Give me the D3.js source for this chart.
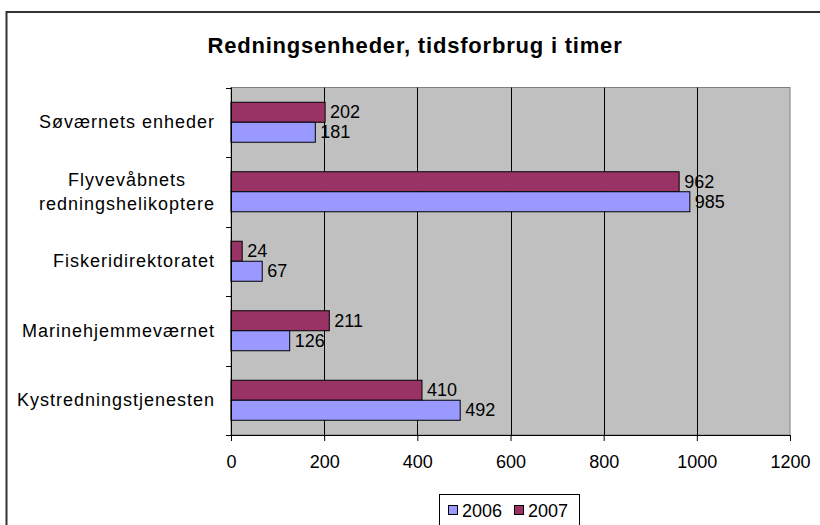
<!DOCTYPE html>
<html>
<head>
<meta charset="utf-8">
<script src="https://cdn.jsdelivr.net/npm/d3@7"></script>
<style>
  body { margin: 0; background: #fff; }
  svg { display: block; font-family: "Liberation Sans", Arial, sans-serif; }
</style>
</head>
<body>
<div id="chart"></div>
<script>
// data
var categories = ["Søværnets enheder", "Flyvevåbnets redningshelikoptere", "Fiskeridirektoratet", "Marinehjemmeværnet", "Kystredningstjenesten"];
var labelLines = [["Søværnets enheder"], ["Flyvevåbnets", "redningshelikoptere"], ["Fiskeridirektoratet"], ["Marinehjemmeværnet"], ["Kystredningstjenesten"]];
var series = ["2007", "2006"];
var values2006 = [181, 985, 67, 126, 492];
var values2007 = [202, 962, 24, 211, 410];
var xTicks = [0, 200, 400, 600, 800, 1000, 1200];
var legendKeys = ["2006", "2007"];
var colors = { "2006": "#9999ff", "2007": "#993366" };

var width = 820, height = 525;
var plot = { left: 231, right: 790, top: 87.5, bottom: 435 };

var svg = d3.select("#chart").append("svg")
    .attr("width", width)
    .attr("height", height);

// outer chart border (runs off the right and bottom)
svg.append("path")
    .attr("d", "M6.5,600 L6.5,12 L830,12")
    .attr("fill", "none")
    .attr("stroke", "#333")
    .attr("stroke-width", 2);

svg.append("text")
    .attr("x", 415)
    .attr("y", 53)
    .attr("text-anchor", "middle")
    .attr("font-size", 22)
    .attr("font-weight", "bold")
    .attr("letter-spacing", 0.8)
    .text("Redningsenheder, tidsforbrug i timer");

var x = d3.scaleLinear().domain([0, 1200]).range([plot.left, plot.right]);
var y = d3.scaleBand().domain(categories).range([plot.top, plot.bottom]);
var barH = 20;
var ySub = d3.scaleBand().domain(series).range([y.bandwidth() / 2 - barH, y.bandwidth() / 2 + barH]);

// plot background
svg.append("rect")
    .attr("x", plot.left)
    .attr("y", plot.top)
    .attr("width", plot.right - plot.left)
    .attr("height", plot.bottom - plot.top)
    .attr("fill", "#c0c0c0")
    .attr("stroke", "#808080")
    .attr("stroke-width", 1);

// gridlines
svg.append("g").selectAll("line")
    .data(xTicks.slice(1, -1))
    .join("line")
    .attr("x1", d => Math.round(x(d)) + 0.5)
    .attr("x2", d => Math.round(x(d)) + 0.5)
    .attr("y1", plot.top)
    .attr("y2", plot.bottom)
    .attr("stroke", "#000")
    .attr("stroke-width", 1);

// bars
var rows = categories.map((c, i) => ({ cat: c, "2006": values2006[i], "2007": values2007[i] }));

var groups = svg.append("g").selectAll("g")
    .data(rows)
    .join("g")
    .attr("transform", d => "translate(0," + y(d.cat) + ")");

groups.selectAll("rect")
    .data(d => series.map(s => ({ s: s, v: d[s] })))
    .join("rect")
    .attr("x", x(0))
    .attr("y", d => ySub(d.s))
    .attr("width", d => x(d.v) - x(0))
    .attr("height", ySub.bandwidth())
    .attr("fill", d => colors[d.s])
    .attr("stroke", "#000")
    .attr("stroke-width", 1);

groups.selectAll("text")
    .data(d => series.map(s => ({ s: s, v: d[s] })))
    .join("text")
    .attr("x", d => x(d.v) + 5)
    .attr("y", d => ySub(d.s) + ySub.bandwidth() / 2 + 6)
    .attr("font-size", 18)
    .attr("fill", "#000")
    .text(d => d.v);

// x axis
var xAxis = svg.append("g")
    .attr("transform", "translate(0," + plot.bottom + ")")
    .call(d3.axisBottom(x).tickValues(xTicks).tickFormat(d3.format("d")).tickSize(6).tickSizeOuter(0));
xAxis.select(".domain").attr("stroke", "#000");
xAxis.selectAll(".tick line").attr("stroke", "#000");
xAxis.selectAll(".tick text")
    .attr("font-size", 18)
    .attr("font-family", "Liberation Sans, Arial, sans-serif")
    .attr("fill", "#000")
    .attr("y", 33)
    .attr("dy", null);

// y axis line + ticks between categories
var yEdges = categories.map(c => y(c)).concat([plot.bottom]);
svg.append("line")
    .attr("x1", plot.left + 0.5).attr("x2", plot.left + 0.5)
    .attr("y1", plot.top).attr("y2", plot.bottom)
    .attr("stroke", "#000");
svg.append("g").selectAll("line")
    .data(yEdges)
    .join("line")
    .attr("x1", plot.left - 5)
    .attr("x2", plot.left)
    .attr("y1", d => Math.round(d) + 0.5)
    .attr("y2", d => Math.round(d) + 0.5)
    .attr("stroke", "#000");

// category labels
var labelRight = 215;
var catLabels = svg.append("g").selectAll("text")
    .data(categories)
    .join("text")
    .attr("y", d => y(d) + y.bandwidth() / 2)
    .attr("font-size", 18)
    .attr("letter-spacing", 1)
    .attr("fill", "#000");

catLabels.each(function(d, i) {
    var lines = labelLines[i];
    var t = d3.select(this);
    lines.forEach((ln, j) => {
        t.append("tspan")
            .attr("x", labelRight)
            .attr("text-anchor", "end")
            .attr("dy", j === 0 ? (6 - (lines.length - 1) * 12) + "px" : "24px")
            .text(ln);
    });
    if (lines.length > 1) {
        // multi-line labels are centred on each other
        var spans = t.selectAll("tspan").nodes();
        var maxW = d3.max(spans, s => s.getComputedTextLength());
        t.selectAll("tspan")
            .attr("text-anchor", "middle")
            .attr("x", labelRight - maxW / 2);
    }
});

// legend
var legend = svg.append("g");
legend.append("rect")
    .attr("x", 439.5).attr("y", 494.5)
    .attr("width", 140).attr("height", 40)
    .attr("fill", "#fff")
    .attr("stroke", "#000");
var legItems = legendKeys.map((s, i) => ({ s: s, x: 448 + i * 66 }));
legend.selectAll("rect.key")
    .data(legItems)
    .join("rect")
    .attr("class", "key")
    .attr("x", d => d.x + 0.5)
    .attr("y", 505.5)
    .attr("width", 9)
    .attr("height", 9)
    .attr("fill", d => colors[d.s])
    .attr("stroke", "#000");
legend.selectAll("text")
    .data(legItems)
    .join("text")
    .attr("x", d => d.x + 14)
    .attr("y", 517)
    .attr("font-size", 18)
    .text(d => d.s);
</script>
</body>
</html>
